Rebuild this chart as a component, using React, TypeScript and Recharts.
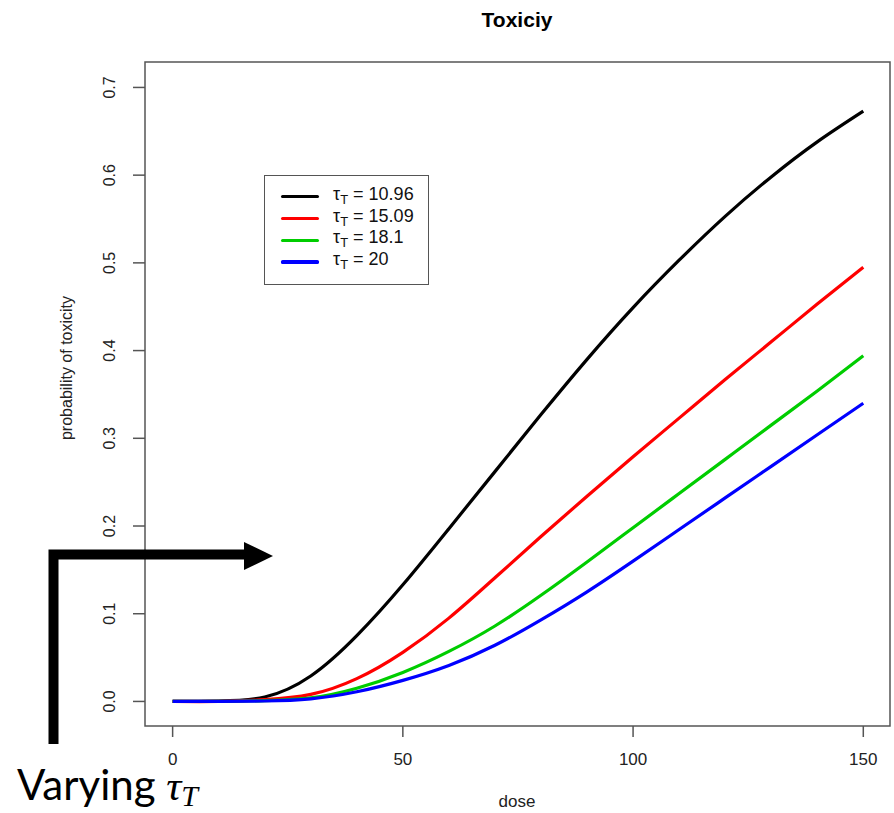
import React from 'react';
import { LineChart, Line, XAxis, YAxis, ReferenceArea, Legend } from 'recharts';

// dose grid
const doses = [0, 10, 20, 30, 40, 50, 60, 70, 80, 90, 100, 110, 120, 130, 140, 150];
// probability of toxicity for each tau_T
const tau1096 = [0, 0.0005, 0.005, 0.029, 0.075, 0.133, 0.197, 0.262, 0.327, 0.39, 0.449, 0.503, 0.553, 0.598, 0.638, 0.673];
const tau1509 = [0, 0, 0.002, 0.008, 0.026, 0.056, 0.095, 0.141, 0.188, 0.234, 0.279, 0.323, 0.367, 0.41, 0.453, 0.495];
const tau181 = [0, 0, 0.001, 0.004, 0.015, 0.033, 0.057, 0.086, 0.121, 0.159, 0.198, 0.237, 0.276, 0.315, 0.354, 0.394];
const tau20 = [0, 0, 0.0005, 0.003, 0.011, 0.024, 0.041, 0.064, 0.093, 0.125, 0.16, 0.196, 0.232, 0.268, 0.304, 0.34];

const tauLabels = ['10.96', '15.09', '18.1', '20'];
const seriesKeys = ['s0', 's1', 's2', 's3'];
const seriesColors = ['#000000', '#FF0000', '#00CD00', '#0000FF'];
const xTicks = [0, 50, 100, 150];
const yTicks = [0, 0.1, 0.2, 0.3, 0.4, 0.5, 0.6, 0.7];

const allSeries = [tau1096, tau1509, tau181, tau20];
const data = doses.map((d, i) => {
  const row: Record<string, number> = { dose: d };
  allSeries.forEach((s, k) => {
    row[seriesKeys[k]] = s[i];
  });
  return row;
});

const FONT = '"Liberation Sans", Arial, sans-serif';

const XTick = (props: any) => {
  const { x, y, payload } = props;
  return (
    <text x={x} y={y + 22} textAnchor="middle" dominantBaseline="central" fontFamily={FONT} fontSize={17} fill="#222">
      {payload.value}
    </text>
  );
};

const YTick = (props: any) => {
  const { x, y, payload } = props;
  const cx = x - 23;
  return (
    <text
      x={cx}
      y={y}
      transform={`rotate(-90 ${cx} ${y})`}
      textAnchor="middle"
      dominantBaseline="central"
      fontFamily={FONT}
      fontSize={16}
      fill="#222"
    >
      {Number(payload.value).toFixed(1)}
    </text>
  );
};

const LegendBox = () => (
  <div
    style={{
      width: 163,
      height: 98,
      border: '1.5px solid #555',
      background: '#fff',
      boxSizing: 'content-box',
      fontFamily: FONT,
      paddingTop: 10,
    }}
  >
    {tauLabels.map((lab, i) => (
      <div key={lab} style={{ display: 'flex', alignItems: 'center', height: 21.7 }}>
        <div style={{ marginLeft: 16, width: 38, height: 3.2, background: seriesColors[i], borderRadius: 1.6 }} />
        <div style={{ marginLeft: 14, fontSize: 18, color: '#111', whiteSpace: 'nowrap', lineHeight: '20px' }}>
          τ<sub style={{ fontSize: 13, verticalAlign: -4 }}>T</sub> = {lab}
        </div>
      </div>
    ))}
  </div>
);

export default function App() {
  return (
    <div style={{ position: 'absolute', left: 0, top: 0, width: 894, height: 813, background: '#fff' }}>
      <LineChart width={894} height={813} data={data} margin={{ top: 62, right: 4, bottom: 0, left: 0 }}>
        <XAxis
          dataKey="dose"
          type="number"
          domain={[-6, 155.8]}
          ticks={xTicks}
          allowDataOverflow
          axisLine={false}
          tickSize={11}
          tickMargin={0}
          tickLine={{ stroke: '#555', strokeWidth: 1.5 }}
          tick={<XTick />}
          height={87}
        />
        <YAxis
          type="number"
          domain={[-0.028, 0.729]}
          ticks={yTicks}
          allowDataOverflow
          axisLine={false}
          tickSize={12}
          tickMargin={0}
          tickLine={{ stroke: '#555', strokeWidth: 1.5 }}
          tick={<YTick />}
          width={145}
        />
        <ReferenceArea x1={-6} x2={155.8} y1={-0.028} y2={0.729} fill="none" stroke="#555" strokeWidth={1.5} ifOverflow="visible" />
        {seriesKeys.map((k, i) => (
          <Line
            key={k}
            type="natural"
            dataKey={k}
            name={tauLabels[i]}
            stroke={seriesColors[i]}
            strokeWidth={3.2}
            dot={false}
            activeDot={false}
            isAnimationActive={false}
          />
        ))}
        <Legend
          layout="vertical"
          align="center"
          verticalAlign="middle"
          content={<LegendBox />}
          wrapperStyle={{ position: 'absolute', left: 264, top: 175, width: 166, height: 112 }}
        />
      </LineChart>
      <svg
        width={894}
        height={813}
        style={{ position: 'absolute', left: 0, top: 0, pointerEvents: 'none' }}
      >
        <text x={517} y={19} textAnchor="middle" dominantBaseline="central" fontFamily={FONT} fontWeight="bold" fontSize={21} fill="#000">
          Toxiciy
        </text>
        <text
          x={66}
          y={368}
          transform="rotate(-90 66 368)"
          textAnchor="middle"
          dominantBaseline="central"
          fontFamily={FONT}
          fontSize={16}
          fill="#222"
        >
          probability of toxicity
        </text>
        <text x={517} y={801} textAnchor="middle" dominantBaseline="central" fontFamily={FONT} fontSize={17} fill="#222">
          dose
        </text>
        <path d="M 53.5 744 L 53.5 554.5 L 246 554.5" fill="none" stroke="#000" strokeWidth={10} strokeLinejoin="miter" />
        <polygon points="244,542 273,556 244,570" fill="#000" />
        <text x={17} y={800} fontFamily="Lato, 'Open Sans', sans-serif" fontSize={42} fill="#000">
          Varying{' '}
          <tspan fontFamily="'Liberation Serif', serif" fontStyle="italic" fontSize={42}>τ</tspan>
          <tspan fontFamily="'Liberation Serif', serif" fontStyle="italic" fontSize={30} dy={6}>T</tspan>
        </text>
      </svg>
    </div>
  );
}
